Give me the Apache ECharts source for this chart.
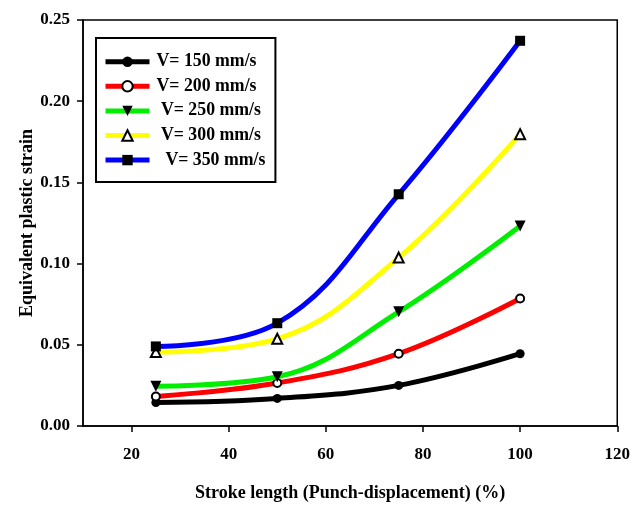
<!DOCTYPE html>
<html>
<head>
<meta charset="utf-8">
<script src="https://cdn.jsdelivr.net/npm/echarts@6/dist/echarts.min.js"></script>
<style>html,body{margin:0;padding:0;background:#fff}#c{width:633px;height:507px}</style>
</head>
<body>
<div id="c"></div>
<script>
var xValues = [25, 50, 75, 100];
var seriesNames = ['V= 150 mm/s', 'V= 200 mm/s', ' V= 250 mm/s', ' V= 300 mm/s', '  V= 350 mm/s'];
var v150 = [0.0145, 0.0170, 0.0250, 0.0445];
var v200 = [0.0182, 0.0265, 0.0445, 0.0785];
var v250 = [0.0245, 0.0303, 0.0703, 0.1232];
var v300 = [0.0455, 0.0537, 0.1037, 0.1797];
var v350 = [0.0490, 0.0633, 0.1427, 0.2372];
var xTicks = [20, 40, 60, 80, 100, 120];

var font = 'Liberation Serif';
function pairs(vals){ return xValues.map(function(x,i){ return [x, vals[i]]; }); }
var styles = [
  {color:'#000000', symbol:'circle', size:9, fill:'#000000', rot:0},
  {color:'#ff0000', symbol:'circle', size:8, fill:'#ffffff', rot:0},
  {color:'#00ee00', symbol:'triangle', size:11, fill:'#000000', rot:180},
  {color:'#ffff00', symbol:'triangle', size:10, fill:'#ffffff', rot:0},
  {color:'#0000ff', symbol:'rect', size:10, fill:'#000000', rot:0}
];
var allData = [v150, v200, v250, v300, v350];
var series = allData.map(function(vals, i){
  var s = styles[i];
  return {
    name: seriesNames[i], type:'line', data: pairs(vals), smooth:0.4,
    symbol: s.symbol, symbolSize: s.size, symbolRotate: s.rot, showAllSymbol:true,
    lineStyle:{color:s.color, width:5},
    itemStyle:{color:s.fill, borderColor:'#000', borderWidth: s.fill==='#ffffff'?2:0},
    z: 2+i
  };
});
var chart = echarts.init(document.getElementById('c'), null, {renderer:'canvas'});
chart.setOption({
  animation:false,
  backgroundColor:'#fff',
  grid:{left:83, right:15, top:20, bottom:75, show:true, borderColor:'#000', borderWidth:1.5},
  legend:{
    orient:'vertical', left:96, top:38,
    data: seriesNames.map(function(n,i){ return {name:n,
      lineStyle:{color:styles[i].color, width:5},
      itemStyle:{color:styles[i].fill, borderColor:'#000', borderWidth: styles[i].fill==='#ffffff'?2:0}}; }),
    itemWidth:44, itemHeight:13, itemGap:6.6,
    padding:[14.7, 10, 13, 7],
    borderColor:'#000', borderWidth:2,
    textStyle:{fontFamily:font, fontWeight:'bold', fontSize:17.8, color:'#000', padding:[0,0,0,2]}
  },
  xAxis:{
    type:'value', min:10, max:120, interval:20,
    name:'Stroke length (Punch-displacement) (%)', nameLocation:'middle', nameGap:58, nameMoveOverlap:false,
    nameTextStyle:{fontFamily:font, fontWeight:'bold', fontSize:18, color:'#000'},
    axisLine:{lineStyle:{color:'#000', width:1.5}},
    axisTick:{show:true, length:6, lineStyle:{color:'#000', width:1.5}, customValues:xTicks},
    axisLabel:{fontFamily:font, fontWeight:'bold', fontSize:17, color:'#000', margin:20, customValues:xTicks},
    splitLine:{show:false}
  },
  yAxis:{
    type:'value', min:0, max:0.25, interval:0.05,
    name:'Equivalent plastic strain', nameLocation:'middle', nameGap:47, nameMoveOverlap:false,
    nameTextStyle:{fontFamily:font, fontWeight:'bold', fontSize:18, color:'#000'},
    axisLine:{show:true, lineStyle:{color:'#000', width:1.5}},
    axisTick:{show:true, length:6, lineStyle:{color:'#000', width:1.5}},
    axisLabel:{fontFamily:font, fontWeight:'bold', fontSize:17, color:'#000', margin:13,
      formatter:function(v){ return v.toFixed(2); }},
    splitLine:{show:false}
  },
  series: series
});
</script>
</body>
</html>
